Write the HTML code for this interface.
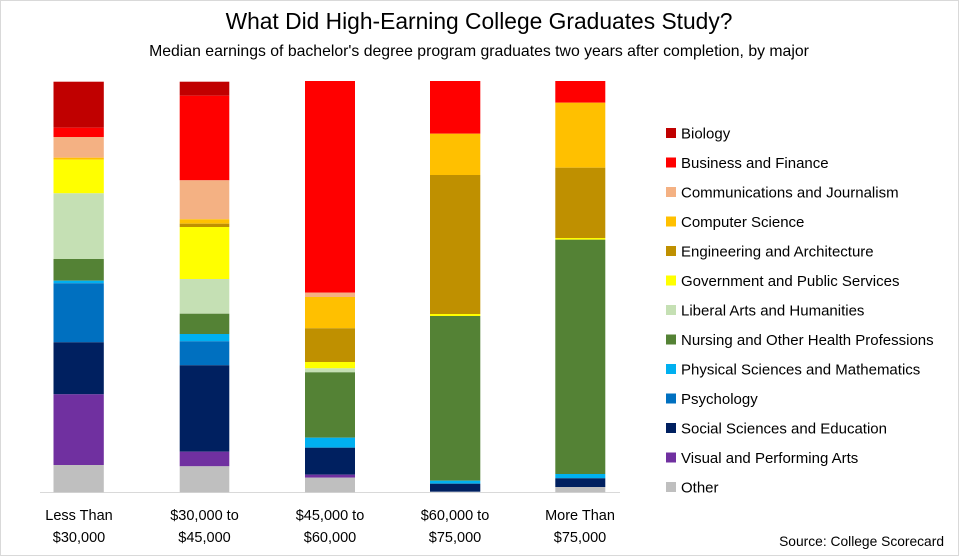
<!DOCTYPE html><html><head><meta charset="utf-8"><style>body{margin:0;background:#fff}svg{display:block;font-family:"Liberation Sans",sans-serif}</style></head><body>
<svg width="959" height="556" viewBox="0 0 959 556">
<rect x="0.5" y="0.5" width="958" height="555" fill="#fff" stroke="#d9d9d9"/>
<text x="479" y="29" text-anchor="middle" font-size="22.8" fill="#000">What Did High-Earning College Graduates Study?</text>
<text x="479" y="56" text-anchor="middle" font-size="15.8" fill="#000">Median earnings of bachelor's degree program graduates two years after completion, by major</text>
<line x1="40" y1="492.5" x2="620" y2="492.5" stroke="#d9d9d9"/>
<g>
<rect x="53.5" y="81.7" width="50.3" height="46" fill="#C00000"/>
<rect x="53.5" y="127.7" width="50.3" height="9.3" fill="#FF0000"/>
<rect x="53.5" y="137" width="50.3" height="20.7" fill="#F4B183"/>
<rect x="53.5" y="157.7" width="50.3" height="2" fill="#FFC000"/>
<rect x="53.5" y="159.7" width="50.3" height="33.6" fill="#FFFF00"/>
<rect x="53.5" y="193.3" width="50.3" height="65.7" fill="#C5E0B4"/>
<rect x="53.5" y="259" width="50.3" height="21.7" fill="#548235"/>
<rect x="53.5" y="280.7" width="50.3" height="2.6" fill="#00B0F0"/>
<rect x="53.5" y="283.3" width="50.3" height="59" fill="#0070C0"/>
<rect x="53.5" y="342.3" width="50.3" height="52" fill="#002060"/>
<rect x="53.5" y="394.3" width="50.3" height="70.7" fill="#7030A0"/>
<rect x="53.5" y="465" width="50.3" height="27.3" fill="#BFBFBF"/>
<rect x="179.7" y="81.7" width="49.6" height="14" fill="#C00000"/>
<rect x="179.7" y="95.7" width="49.6" height="84.6" fill="#FF0000"/>
<rect x="179.7" y="180.3" width="49.6" height="39" fill="#F4B183"/>
<rect x="179.7" y="219.3" width="49.6" height="4.4" fill="#FFC000"/>
<rect x="179.7" y="223.7" width="49.6" height="3.3" fill="#BF9000"/>
<rect x="179.7" y="227" width="49.6" height="52" fill="#FFFF00"/>
<rect x="179.7" y="279" width="49.6" height="34.7" fill="#C5E0B4"/>
<rect x="179.7" y="313.7" width="49.6" height="20.3" fill="#548235"/>
<rect x="179.7" y="334" width="49.6" height="7.3" fill="#00B0F0"/>
<rect x="179.7" y="341.3" width="49.6" height="24" fill="#0070C0"/>
<rect x="179.7" y="365.3" width="49.6" height="86.4" fill="#002060"/>
<rect x="179.7" y="451.7" width="49.6" height="14.6" fill="#7030A0"/>
<rect x="179.7" y="466.3" width="49.6" height="26" fill="#BFBFBF"/>
<rect x="305" y="81" width="50" height="211.7" fill="#FF0000"/>
<rect x="305" y="292.7" width="50" height="4.3" fill="#F4B183"/>
<rect x="305" y="297" width="50" height="31.3" fill="#FFC000"/>
<rect x="305" y="328.3" width="50" height="33.7" fill="#BF9000"/>
<rect x="305" y="362" width="50" height="6.3" fill="#FFFF00"/>
<rect x="305" y="368.3" width="50" height="4" fill="#C5E0B4"/>
<rect x="305" y="372.3" width="50" height="65.4" fill="#548235"/>
<rect x="305" y="437.7" width="50" height="10" fill="#00B0F0"/>
<rect x="305" y="447.7" width="50" height="27" fill="#002060"/>
<rect x="305" y="474.7" width="50" height="3" fill="#7030A0"/>
<rect x="305" y="477.7" width="50" height="14.6" fill="#BFBFBF"/>
<rect x="430" y="81" width="50.3" height="52.7" fill="#FF0000"/>
<rect x="430" y="133.7" width="50.3" height="41.3" fill="#FFC000"/>
<rect x="430" y="175" width="50.3" height="139" fill="#BF9000"/>
<rect x="430" y="314" width="50.3" height="2" fill="#FFFF00"/>
<rect x="430" y="316" width="50.3" height="164.7" fill="#548235"/>
<rect x="430" y="480.7" width="50.3" height="3" fill="#00B0F0"/>
<rect x="430" y="483.7" width="50.3" height="8" fill="#002060"/>
<rect x="555.3" y="81" width="50" height="21.7" fill="#FF0000"/>
<rect x="555.3" y="102.7" width="50" height="65" fill="#FFC000"/>
<rect x="555.3" y="167.7" width="50" height="70.3" fill="#BF9000"/>
<rect x="555.3" y="238" width="50" height="1.7" fill="#FFFF00"/>
<rect x="555.3" y="239.7" width="50" height="234.3" fill="#548235"/>
<rect x="555.3" y="474" width="50" height="4.3" fill="#00B0F0"/>
<rect x="555.3" y="478.3" width="50" height="8.7" fill="#002060"/>
<rect x="555.3" y="487" width="50" height="5.3" fill="#BFBFBF"/>
</g>
<g font-size="14.5" fill="#000" text-anchor="middle">
<text x="79" y="520">Less Than</text><text x="79" y="542">$30,000</text>
<text x="204.5" y="520">$30,000 to</text><text x="204.5" y="542">$45,000</text>
<text x="330" y="520">$45,000 to</text><text x="330" y="542">$60,000</text>
<text x="455" y="520">$60,000 to</text><text x="455" y="542">$75,000</text>
<text x="580" y="520">More Than</text><text x="580" y="542">$75,000</text>
</g>
<text x="944" y="546" text-anchor="end" font-size="13.8" fill="#000">Source: College Scorecard</text>
<g font-size="15" fill="#000">
<rect x="666" y="128" width="10" height="10" fill="#C00000"/><text x="681" y="138.5">Biology</text>
<rect x="666" y="157.5" width="10" height="10" fill="#FF0000"/><text x="681" y="168">Business and Finance</text>
<rect x="666" y="187" width="10" height="10" fill="#F4B183"/><text x="681" y="197.5">Communications and Journalism</text>
<rect x="666" y="216.5" width="10" height="10" fill="#FFC000"/><text x="681" y="227">Computer Science</text>
<rect x="666" y="246" width="10" height="10" fill="#BF9000"/><text x="681" y="256.5">Engineering and Architecture</text>
<rect x="666" y="275.5" width="10" height="10" fill="#FFFF00"/><text x="681" y="286">Government and Public Services</text>
<rect x="666" y="305" width="10" height="10" fill="#C5E0B4"/><text x="681" y="315.5">Liberal Arts and Humanities</text>
<rect x="666" y="334.5" width="10" height="10" fill="#548235"/><text x="681" y="345">Nursing and Other Health Professions</text>
<rect x="666" y="364" width="10" height="10" fill="#00B0F0"/><text x="681" y="374.5">Physical Sciences and Mathematics</text>
<rect x="666" y="393.5" width="10" height="10" fill="#0070C0"/><text x="681" y="404">Psychology</text>
<rect x="666" y="423" width="10" height="10" fill="#002060"/><text x="681" y="433.5">Social Sciences and Education</text>
<rect x="666" y="452.5" width="10" height="10" fill="#7030A0"/><text x="681" y="463">Visual and Performing Arts</text>
<rect x="666" y="482" width="10" height="10" fill="#BFBFBF"/><text x="681" y="492.5">Other</text>
</g>
</svg>
</body></html>
